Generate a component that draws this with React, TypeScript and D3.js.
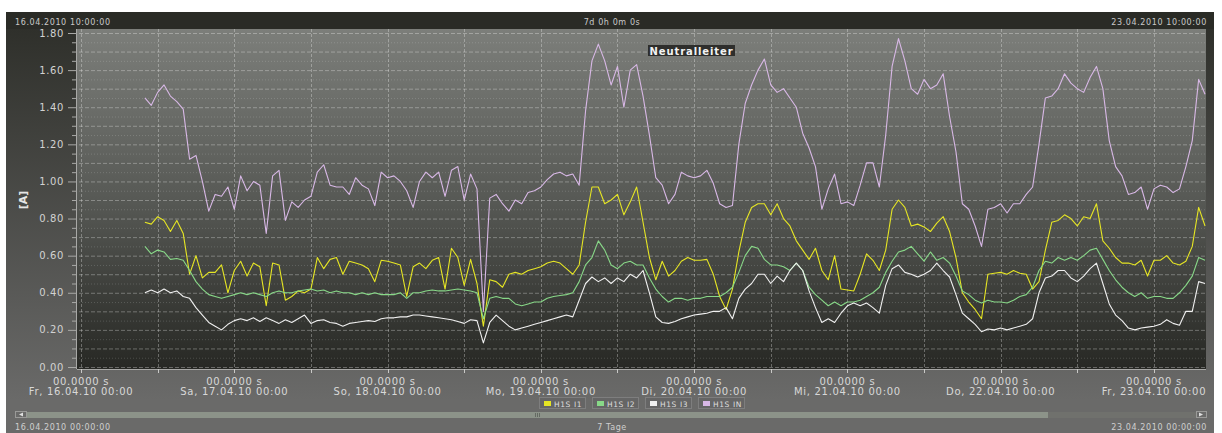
import React from 'react';
import * as d3 from 'd3';

// ---------- data (hourly readings, first sample at 16.04.2010 10:00) ----------
const START_HOUR = 10;

const I1_VALUES = [
  0.78, 0.77, 0.81, 0.79, 0.73, 0.79, 0.72, 0.50, 0.60, 0.48,
  0.51, 0.51, 0.55, 0.40, 0.52, 0.57, 0.49, 0.56, 0.54, 0.33,
  0.56, 0.55, 0.36, 0.38, 0.41, 0.40, 0.42, 0.59, 0.53, 0.58,
  0.59, 0.50, 0.57, 0.56, 0.55, 0.53, 0.46, 0.575, 0.57, 0.56,
  0.55, 0.38, 0.54, 0.56, 0.53, 0.575, 0.59, 0.42, 0.64, 0.59,
  0.44, 0.58, 0.45, 0.22, 0.47, 0.46, 0.43, 0.50, 0.51, 0.50,
  0.52, 0.53, 0.54, 0.56, 0.57, 0.56, 0.53, 0.50, 0.55, 0.78,
  0.97, 0.97, 0.88, 0.90, 0.93, 0.82, 0.89, 0.97, 0.78, 0.59,
  0.47, 0.57, 0.49, 0.52, 0.57, 0.59, 0.575, 0.575, 0.58, 0.50,
  0.38, 0.31, 0.42, 0.62, 0.78, 0.86, 0.88, 0.88, 0.82, 0.88,
  0.80, 0.76, 0.68, 0.63, 0.58, 0.64, 0.52, 0.47, 0.60, 0.42,
  0.415, 0.41, 0.50, 0.61, 0.575, 0.52, 0.63, 0.85, 0.90, 0.86,
  0.76, 0.77, 0.755, 0.73, 0.775, 0.81, 0.73, 0.59, 0.40, 0.35,
  0.31, 0.26, 0.50, 0.505, 0.51, 0.50, 0.52, 0.505, 0.50, 0.42,
  0.46, 0.63, 0.78, 0.79, 0.82, 0.80, 0.76, 0.81, 0.80, 0.88,
  0.68, 0.64, 0.59, 0.56, 0.56, 0.55, 0.575, 0.49, 0.575, 0.575,
  0.60, 0.56, 0.55, 0.57, 0.65, 0.86, 0.76,
];

const I2_VALUES = [
  0.65, 0.61, 0.63, 0.62, 0.58, 0.585, 0.575, 0.52, 0.46, 0.42,
  0.39, 0.38, 0.37, 0.38, 0.39, 0.40, 0.39, 0.40, 0.39, 0.38,
  0.40, 0.41, 0.40, 0.40, 0.41, 0.415, 0.42, 0.41, 0.415, 0.40,
  0.41, 0.40, 0.40, 0.39, 0.40, 0.39, 0.40, 0.39, 0.39, 0.39,
  0.40, 0.37, 0.40, 0.40, 0.41, 0.415, 0.41, 0.41, 0.415, 0.42,
  0.415, 0.41, 0.40, 0.26, 0.37, 0.38, 0.37, 0.37, 0.34, 0.33,
  0.34, 0.35, 0.35, 0.37, 0.38, 0.385, 0.39, 0.40, 0.46, 0.55,
  0.59, 0.68, 0.63, 0.55, 0.53, 0.56, 0.57, 0.55, 0.55, 0.48,
  0.42, 0.38, 0.35, 0.37, 0.37, 0.36, 0.37, 0.37, 0.38, 0.38,
  0.38, 0.40, 0.43, 0.51, 0.60, 0.65, 0.64, 0.58, 0.55, 0.55,
  0.54, 0.52, 0.56, 0.52, 0.43, 0.39, 0.36, 0.33, 0.35, 0.33,
  0.35, 0.35, 0.36, 0.38, 0.40, 0.43, 0.51, 0.57, 0.62, 0.63,
  0.65, 0.61, 0.57, 0.62, 0.575, 0.59, 0.56, 0.49, 0.41, 0.39,
  0.36, 0.345, 0.36, 0.35, 0.35, 0.345, 0.36, 0.38, 0.39, 0.43,
  0.52, 0.57, 0.56, 0.59, 0.575, 0.59, 0.575, 0.60, 0.63, 0.64,
  0.58, 0.52, 0.47, 0.43, 0.40, 0.38, 0.40, 0.37, 0.38, 0.38,
  0.37, 0.37, 0.40, 0.44, 0.49, 0.59, 0.575,
];

const I3_VALUES = [
  0.40, 0.415, 0.40, 0.42, 0.40, 0.41, 0.38, 0.37, 0.32, 0.28,
  0.24, 0.22, 0.20, 0.23, 0.25, 0.26, 0.25, 0.265, 0.245, 0.265,
  0.25, 0.235, 0.255, 0.24, 0.26, 0.28, 0.235, 0.25, 0.255, 0.24,
  0.235, 0.22, 0.235, 0.24, 0.245, 0.25, 0.245, 0.26, 0.265, 0.265,
  0.27, 0.27, 0.28, 0.28, 0.275, 0.27, 0.265, 0.26, 0.255, 0.245,
  0.235, 0.255, 0.25, 0.13, 0.24, 0.28, 0.25, 0.22, 0.20, 0.21,
  0.22, 0.23, 0.24, 0.25, 0.26, 0.27, 0.28, 0.27, 0.36, 0.45,
  0.485, 0.46, 0.48, 0.45, 0.48, 0.46, 0.50, 0.48, 0.52, 0.40,
  0.27, 0.24, 0.235, 0.245, 0.26, 0.27, 0.28, 0.285, 0.29, 0.30,
  0.30, 0.32, 0.26, 0.37, 0.42, 0.45, 0.50, 0.50, 0.45, 0.49,
  0.46, 0.52, 0.56, 0.52, 0.41, 0.32, 0.24, 0.26, 0.24, 0.29,
  0.33, 0.345, 0.33, 0.345, 0.32, 0.29, 0.44, 0.53, 0.55, 0.51,
  0.50, 0.485, 0.50, 0.52, 0.56, 0.52, 0.485, 0.39, 0.29, 0.26,
  0.23, 0.19, 0.205, 0.20, 0.21, 0.20, 0.21, 0.22, 0.23, 0.26,
  0.40, 0.48, 0.49, 0.52, 0.52, 0.48, 0.46, 0.49, 0.53, 0.56,
  0.45, 0.34, 0.28, 0.25, 0.21, 0.20, 0.21, 0.215, 0.22, 0.23,
  0.255, 0.235, 0.225, 0.30, 0.30, 0.46, 0.45,
];

const IN_VALUES = [
  1.45, 1.41, 1.48, 1.52, 1.46, 1.43, 1.39, 1.12, 1.14, 1.00,
  0.84, 0.93, 0.92, 0.97, 0.85, 1.03, 0.95, 1.00, 0.98, 0.72,
  1.03, 1.06, 0.79, 0.89, 0.86, 0.90, 0.92, 1.05, 1.09, 0.98,
  0.97, 0.97, 0.93, 1.02, 0.98, 0.96, 0.87, 1.05, 1.02, 1.03,
  1.00, 0.95, 0.86, 1.00, 1.05, 1.02, 1.05, 0.92, 1.06, 1.08,
  0.90, 1.04, 0.96, 0.30, 0.91, 0.93, 0.88, 0.84, 0.90, 0.88,
  0.94, 0.95, 0.97, 1.01, 1.04, 1.05, 1.03, 1.04, 0.98, 1.38,
  1.65, 1.74, 1.65, 1.52, 1.62, 1.40, 1.60, 1.63, 1.46, 1.25,
  1.02, 0.98, 0.88, 0.93, 1.05, 1.03, 1.02, 1.03, 1.06, 0.99,
  0.88, 0.86, 0.87, 1.20, 1.42, 1.52, 1.60, 1.66, 1.52, 1.48,
  1.50, 1.45, 1.40, 1.26, 1.18, 1.08, 0.85, 0.96, 1.04, 0.88,
  0.89, 0.87, 0.98, 1.10, 1.10, 0.97, 1.25, 1.62, 1.77, 1.65,
  1.50, 1.47, 1.55, 1.50, 1.52, 1.58, 1.35, 1.16, 0.88, 0.85,
  0.76, 0.65, 0.85, 0.86, 0.88, 0.83, 0.88, 0.88, 0.93, 0.97,
  1.20, 1.45, 1.46, 1.50, 1.58, 1.53, 1.50, 1.48, 1.56, 1.62,
  1.50, 1.22, 1.08, 1.03, 0.93, 0.94, 0.97, 0.85, 0.96, 0.98,
  0.97, 0.94, 0.96, 1.08, 1.22, 1.55, 1.47,
];

const SERIES_NAMES = ['H1S I1', 'H1S I2', 'H1S I3', 'H1S IN'];
const SERIES_COLORS = ['#e6e624', '#88d888', '#f0f0f0', '#d8b8e6'];

const Y_TICKS = [0, 0.2, 0.4, 0.6, 0.8, 1.0, 1.2, 1.4, 1.6, 1.8];
const X_DAY_LABELS = [
  'Fr, 16.04.10 00:00',
  'Sa, 17.04.10 00:00',
  'So, 18.04.10 00:00',
  'Mo, 19.04.10 00:00',
  'Di, 20.04.10 00:00',
  'Mi, 21.04.10 00:00',
  'Do, 22.04.10 00:00',
  'Fr, 23.04.10 00:00',
];
const X_SUB_LABEL = '00.0000 s';

const BASE = new Date(2010, 3, 16, 0, 0, 0).getTime();
const hourToDate = (h: number) => new Date(BASE + h * 3600000);

const FONT = '"DejaVu Sans", Verdana, sans-serif';

export default function App() {
  const W = 1222;
  const H = 433;
  const P = { x0: 77, x1: 1206, y0: 29, y1: 369 };

  const x = d3
    .scaleTime()
    .domain([hourToDate(-0.63), hourToDate(176.15)])
    .range([P.x0, P.x1]);
  const y = d3.scaleLinear().domain([0, 1.8]).range([367, 33]);

  const series = [I1_VALUES, I2_VALUES, I3_VALUES, IN_VALUES];
  const line = d3
    .line<number>()
    .x((_, i) => x(hourToDate(START_HOUR + i)))
    .y((v) => y(v));

  const gridY = d3.range(0, 37).map((i) => i * 0.05);
  const halfDays = d3.range(0, 169, 12);
  const days = d3.range(0, 169, 24);

  const legendX = [539, 592, 645, 698];

  return (
    <div style={{ position: 'absolute', left: 0, top: 0, width: W, height: H }}>
      <svg width={W} height={H} style={{ display: 'block', fontFamily: FONT }}>
        <defs>
          <linearGradient id="panelGrad" gradientUnits="userSpaceOnUse" x1="0" y1="29" x2="0" y2="400">
            <stop offset="0" stopColor="#2f302b" />
            <stop offset="1" stopColor="#6a6a69" />
          </linearGradient>
          <linearGradient id="plotGrad" gradientUnits="userSpaceOnUse" x1="0" y1={P.y0} x2="0" y2={P.y1}>
            <stop offset="0" stopColor="#7c7e7a" />
            <stop offset="0.5" stopColor="#575955" />
            <stop offset="1" stopColor="#272824" />
          </linearGradient>
          <clipPath id="plotClip">
            <rect x={P.x0} y={P.y0} width={P.x1 - P.x0} height={P.y1 - P.y0} />
          </clipPath>
        </defs>

        <rect x={0} y={0} width={W} height={H} fill="#ffffff" />
        {/* panel */}
        <rect x={6} y={29} width={1208} height={H - 29} fill="url(#panelGrad)" />
        <rect x={6} y={400} width={1208} height={H - 400} fill="#6a6a69" />
        <rect x={6} y={12} width={1208} height={17} fill="#2a2b26" />

        {/* header texts */}
        <text x={15} y={25} fontSize={8} letterSpacing={0.6} fill="#c9c9c9">16.04.2010 10:00:00</text>
        <text x={612} y={25} fontSize={8} letterSpacing={0.6} fill="#c9c9c9" textAnchor="middle">7d 0h 0m 0s</text>
        <text x={1207} y={25} fontSize={8} letterSpacing={0.6} fill="#c9c9c9" textAnchor="end">23.04.2010 10:00:00</text>

        {/* plot background */}
        <rect x={P.x0} y={P.y0} width={P.x1 - P.x0} height={P.y1 - P.y0} fill="url(#plotGrad)" />

        {/* grid */}
        <g>
          {gridY.map((v, i) => (
            <line
              key={'gy' + i}
              x1={P.x0 + 2}
              x2={P.x1}
              y1={y(v) + 0.5}
              y2={y(v) + 0.5}
              stroke={i % 2 === 0 ? 'rgba(255,255,255,0.30)' : 'rgba(255,255,255,0.16)'}
              strokeWidth={1}
              strokeDasharray={i % 2 === 0 ? '4,2' : '1,2'}
            />
          ))}
          {halfDays.map((h) => (
            <line
              key={'gx' + h}
              x1={Math.round(x(hourToDate(h))) + 0.5}
              x2={Math.round(x(hourToDate(h))) + 0.5}
              y1={P.y0}
              y2={P.y1}
              stroke="rgba(255,255,255,0.30)"
              strokeWidth={1}
              strokeDasharray="3,2"
            />
          ))}
        </g>

        {/* series */}
        <g clipPath="url(#plotClip)">
          {series.map((vals, si) => (
            <path
              key={SERIES_NAMES[si]}
              d={line(vals) || ''}
              fill="none"
              stroke={SERIES_COLORS[si]}
              strokeWidth={1.1}
              strokeLinejoin="round"
            />
          ))}
        </g>

        {/* title tag */}
        <rect x={648} y={45} width={87} height={11} fill="#2e2e2c" />
        <text x={691.5} y={54.5} fontSize={10} fontWeight="bold" letterSpacing={0.9} fill="#f2f2f2" textAnchor="middle">
          Neutralleiter
        </text>

        {/* y axis */}
        <line x1={P.x0 - 0.5} x2={P.x0 - 0.5} y1={P.y0} y2={P.y1} stroke="#a8a8a6" strokeWidth={1} />
        {gridY.map((v, i) => (
          <line
            key={'yt' + i}
            x1={i % 4 === 0 ? 68 : 72}
            x2={P.x0 - 1}
            y1={y(v) + 0.5}
            y2={y(v) + 0.5}
            stroke="#a8a8a6"
            strokeWidth={1}
          />
        ))}
        {Y_TICKS.map((v) => (
          <text
            key={'yl' + v}
            x={64}
            y={y(v)}
            dy="0.36em"
            fontSize={10}
            letterSpacing={0.6}
            fill="#d2d2d2"
            textAnchor="end"
          >
            {v.toFixed(2)}
          </text>
        ))}
        <text
          transform="translate(27,200) rotate(-90)"
          fontSize={11}
          fontWeight="bold"
          fill="#e6e6e6"
          textAnchor="middle"
        >
          [A]
        </text>

        {/* x axis */}
        <line x1={P.x0} x2={P.x1} y1={P.y1 + 0.5} y2={P.y1 + 0.5} stroke="#a8a8a6" strokeWidth={1} />
        {halfDays.map((h) => (
          <line
            key={'xt' + h}
            x1={Math.round(x(hourToDate(h))) + 0.5}
            x2={Math.round(x(hourToDate(h))) + 0.5}
            y1={P.y1}
            y2={P.y1 + 4}
            stroke="#c8c8c6"
            strokeWidth={1}
          />
        ))}
        {days.map((h, i) => (
          <g key={'xl' + h}>
            <text x={x(hourToDate(h))} y={385} fontSize={10} letterSpacing={0.7} fill="#d8d8d8" textAnchor="middle">
              {X_SUB_LABEL}
            </text>
            <text x={x(hourToDate(h))} y={394.5} fontSize={10} letterSpacing={0.7} fill="#d8d8d8" textAnchor="middle">
              {X_DAY_LABELS[i]}
            </text>
          </g>
        ))}

        {/* legend */}
        {SERIES_NAMES.map((name, i) => (
          <g key={'lg' + name}>
            <rect x={legendX[i] + 0.5} y={397.5} width={46} height={11} fill="#656565" stroke="#7e7e7e" strokeWidth={1} />
            <rect x={legendX[i] + 5} y={401} width={7} height={5} fill={SERIES_COLORS[i]} />
            <text x={legendX[i] + 15} y={406.5} fontSize={7.5} letterSpacing={0.6} fill="#dedede">
              {name}
            </text>
          </g>
        ))}

        {/* scrollbar */}
        <rect x={15.5} y={411.5} width={11} height={6} fill="#6a6a69" stroke="#9a9a98" strokeWidth={1} />
        <path d="M19,414.5 L23,412.5 L23,416.5 Z" fill="#e0e0e0" />
        <rect x={27} y={412} width={1021} height={6} fill="#8c9389" />
        <rect x={1048} y={412} width={148} height={6} fill="#70716d" />
        <rect x={1196.5} y={411.5} width={10} height={6} fill="#6a6a69" stroke="#9a9a98" strokeWidth={1} />
        <path d="M1203,414.5 L1199,412.5 L1199,416.5 Z" fill="#e0e0e0" />
        <g stroke="#5a5f58" strokeWidth={0.8}>
          <line x1={535.5} x2={535.5} y1={413} y2={417} />
          <line x1={537.5} x2={537.5} y1={413} y2={417} />
          <line x1={539.5} x2={539.5} y1={413} y2={417} />
        </g>

        {/* bottom texts */}
        <text x={15} y={430} fontSize={8} letterSpacing={0.6} fill="#cfcfcf">16.04.2010 00:00:00</text>
        <text x={612} y={430} fontSize={8} letterSpacing={0.6} fill="#cfcfcf" textAnchor="middle">7 Tage</text>
        <text x={1207} y={430} fontSize={8} letterSpacing={0.6} fill="#cfcfcf" textAnchor="end">23.04.2010 00:00:00</text>
      </svg>
    </div>
  );
}
